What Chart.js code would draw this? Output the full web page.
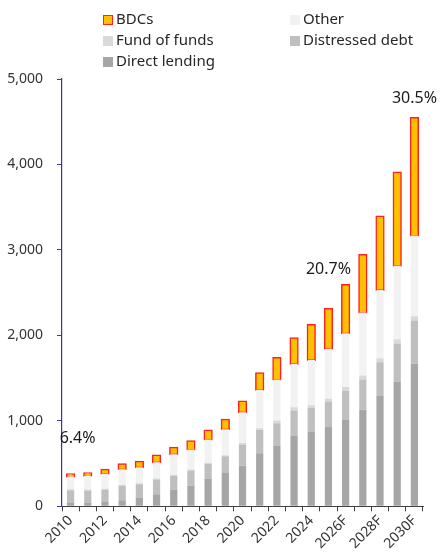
<!DOCTYPE html>
<html>
<head>
<meta charset="utf-8">
<script src="https://cdn.jsdelivr.net/npm/chart.js@4.4.1/dist/chart.umd.min.js"></script>
<style>
  html, body { margin: 0; padding: 0; background: #fff; }
  #wrap { position: relative; width: 444px; height: 559px; }
  #legend { position: absolute; left: 0; top: 0; width: 444px; height: 75px; font-family: "Noto Sans", sans-serif; font-size: 15px; color: #262626; }
  .item { position: absolute; white-space: nowrap; line-height: 18px; }
  .box { display: inline-block; width: 10px; height: 10px; margin-right: 3px; vertical-align: -1px; box-sizing: border-box; }
</style>
</head>
<body>
<div id="wrap">
  <canvas id="myChart" width="444" height="559"></canvas>
  <div id="legend"></div>
</div>
<script>
var years = ['2010', '2011', '2012', '2013', '2014', '2015', '2016', '2017', '2018', '2019', '2020',
  '2021', '2022', '2023', '2024', '2025', '2026F', '2027F', '2028F', '2029F', '2030F'];

var directLending = [40, 40, 50, 70, 98, 140, 190, 240, 320, 390, 475, 622, 705, 830, 875, 927, 1017, 1130, 1290, 1460, 1667];
var distressedDebt = [148, 145, 145, 167, 160, 173, 168, 180, 179, 195, 249, 273, 268, 292, 277, 300, 331, 355, 397, 444, 506];
var fundOfFunds = [12, 12, 12, 12, 12, 12, 12, 12, 12, 12, 16, 20, 32, 36, 31, 32, 47, 47, 47, 51, 51];
var other = [150, 160, 175, 184, 187, 192, 238, 233, 272, 304, 362, 448, 479, 506, 529, 584, 631, 736, 798, 860, 946];
var bdcs = [24, 30, 47, 59, 66, 78, 78, 97, 105, 113, 124, 195, 253, 303, 409, 467, 565, 674, 860, 1090, 1374];

var yTicks = [0, 1000, 2000, 3000, 4000, 5000];

// BDC share callouts: category index + text
var shareIdx = [0, 15, 20];
var shareText = ['6.4%', '20.7%', '30.5%'];

var fontFamily = '"Noto Sans", sans-serif';

var data = {
  labels: years,
  datasets: [
    { label: 'Direct lending', data: directLending, backgroundColor: '#a6a6a6' },
    { label: 'Distressed debt', data: distressedDebt, backgroundColor: '#bfbfbf' },
    { label: 'Fund of funds', data: fundOfFunds, backgroundColor: '#d9d9d9' },
    { label: 'Other', data: other, backgroundColor: '#f2f2f2' },
    { label: 'BDCs', data: bdcs, backgroundColor: '#ffc000', borderColor: '#ff2020',
      borderWidth: 1.5, borderSkipped: false, inflateAmount: 1 }
  ]
};

// draws the % labels above the chosen bars
var shareLabels = {
  id: 'shareLabels',
  afterDraw: function(chart, args, opts) {
    var ctx = chart.ctx;
    var xs = chart.scales.x, ys = chart.scales.y;
    ctx.save();
    ctx.font = '16px ' + fontFamily;
    ctx.fillStyle = '#1a1a1a';
    ctx.textAlign = 'center';
    ctx.textBaseline = 'middle';
    shareIdx.forEach(function(i, k) {
      var total = 0;
      chart.data.datasets.forEach(function(ds) { total += ds.data[i]; });
      var x = xs.getPixelForValue(i) + opts.dx[k];
      var y = ys.getPixelForValue(total) - opts.dy[k];
      ctx.fillText(shareText[k], x, y);
    });
    ctx.restore();
  }
};

var options = {
  responsive: false,
  animation: false,
  layout: { padding: { top: 79, left: 7, right: 21, bottom: 6 } },
  scales: {
    x: {
      stacked: true,
      grid: { drawOnChartArea: false, drawTicks: true, tickLength: 5, color: '#404040', offset: true },
      border: { color: '#404040', width: 1 },
      ticks: {
        autoSkip: false,
        maxRotation: 45,
        minRotation: 45,
        padding: 1,
        color: '#333',
        font: { family: fontFamily, size: 14 },
        callback: function(v, i) { return i % 2 === 0 ? years[i] : ''; }
      }
    },
    y: {
      stacked: true,
      min: 0,
      max: 5000,
      afterBuildTicks: function(axis) { axis.ticks = yTicks.map(function(v) { return { value: v }; }); },
      afterFit: function(axis) { axis.width = 55; },
      grid: { drawOnChartArea: false, drawTicks: true, tickLength: 5, color: '#3d3a8c' },
      border: { color: '#3d3a8c', width: 1.2 },
      ticks: {
        padding: 14,
        color: '#333',
        font: { family: fontFamily, size: 14 },
        callback: function(v) { return v.toLocaleString('en-US'); }
      }
    }
  },
  datasets: { bar: { categoryPercentage: 1, barPercentage: 0.42 } },
  plugins: {
    legend: { display: false },
    tooltip: { enabled: false },
    shareLabels: { dx: [7, 0, 0], dy: [36, 39, 20] }
  }
};

var ctx = document.getElementById('myChart').getContext('2d');
var myChart = new Chart(ctx, {
  type: 'bar',
  data: data,
  options: options,
  plugins: [shareLabels]
});

// legend in two columns, top of the stack first
var legendOrder = [4, 3, 2, 1, 0];
var legendPos = [[103, 9], [290, 9], [103, 30], [290, 30], [103, 51]];
var legendEl = document.getElementById('legend');
legendOrder.forEach(function(di, k) {
  var ds = data.datasets[di];
  var item = document.createElement('div');
  item.className = 'item';
  item.style.left = legendPos[k][0] + 'px';
  item.style.top = legendPos[k][1] + 'px';
  var box = document.createElement('span');
  box.className = 'box';
  box.style.background = ds.backgroundColor;
  if (ds.borderColor) box.style.border = '1.5px solid ' + ds.borderColor;
  item.appendChild(box);
  item.appendChild(document.createTextNode(ds.label));
  legendEl.appendChild(item);
});
</script>
</body>
</html>
